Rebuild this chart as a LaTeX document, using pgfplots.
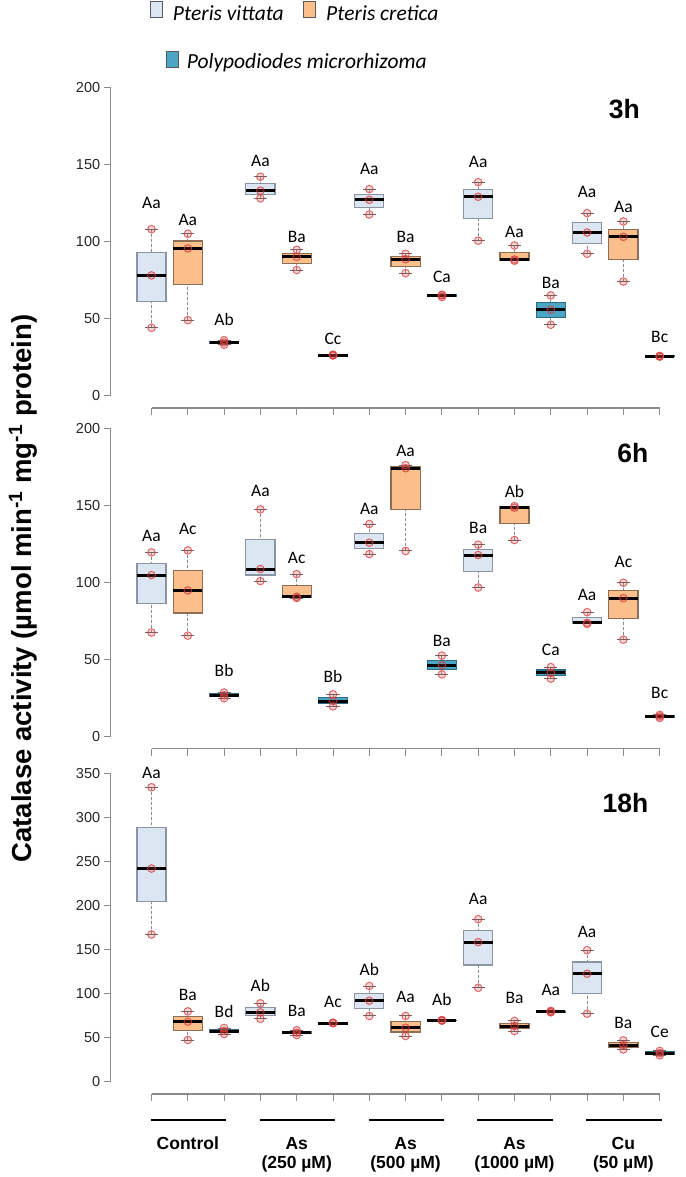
\documentclass[border=0pt]{standalone}
\usepackage{pgfplots}
\pgfplotsset{compat=1.18}
\usepgfplotslibrary{statistics}
\usepackage{fontspec}
\setmainfont{Liberation Sans}
\newfontfamily\carlito{Carlito}
\definecolor{pvfill}{HTML}{DCE6F2}
\definecolor{pvedge}{HTML}{8A94A2}
\definecolor{pcfill}{HTML}{FBBF8B}
\definecolor{pcedge}{HTML}{8C6E55}
\definecolor{pmfill}{HTML}{4AA6C4}
\definecolor{pmedge}{HTML}{2E6B80}
\definecolor{ptred}{HTML}{D63C3C}
\definecolor{axgray}{HTML}{8C8C8C}
\definecolor{ticklab}{HTML}{262626}

\tikzset{lbl/.style={font=\carlito\fontsize{17.5}{17.5}\selectfont, inner sep=0pt}}
\pgfplotsset{
  pv/.style={draw=pvedge, fill=pvfill, line width=1.2pt},
  pc/.style={draw=pcedge, fill=pcfill, line width=1.2pt},
  pm/.style={draw=pmedge, fill=pmfill, line width=1.2pt},
  pts/.style={only marks, mark=*, mark size=3.8pt, mark options={draw=ptred, fill=ptred, fill opacity=0.2, draw opacity=0.75, line width=1pt}},
  boxplot/draw direction=y,
  boxplot/box extend=0.8,
  boxplot/whisker extend=0.36,
  boxplot/every median/.style={black, line width=3pt},
  boxplot/draw/lower whisker/.code={%
    \draw[axgray, line width=1pt, densely dashed] (boxplot box cs:\pgfplotsboxplotvalue{lower whisker},0.5) -- (boxplot box cs:\pgfplotsboxplotvalue{lower quartile},0.5);
    \draw[black!60, line width=1pt] (boxplot whisker cs:\pgfplotsboxplotvalue{lower whisker},0) -- (boxplot whisker cs:\pgfplotsboxplotvalue{lower whisker},1);
  },
  boxplot/draw/upper whisker/.code={%
    \draw[axgray, line width=1pt, densely dashed] (boxplot box cs:\pgfplotsboxplotvalue{upper whisker},0.5) -- (boxplot box cs:\pgfplotsboxplotvalue{upper quartile},0.5);
    \draw[black!60, line width=1pt] (boxplot whisker cs:\pgfplotsboxplotvalue{upper whisker},0) -- (boxplot whisker cs:\pgfplotsboxplotvalue{upper whisker},1);
  },
  panel/.style={
    scale only axis, width=574.4pt, height=333pt,
    xmin=-0.124, xmax=15.7, anchor=south west,
    axis lines*=left, axis line style={draw=none},
    tick align=outside, major tick length=7pt,
    tick style={axgray, line width=1pt},
    xtick={1,...,15}, xticklabels={},
    clip=false,
    yticklabel style={font=\fontsize{14.5}{14.5}\selectfont, text=ticklab},
    /pgf/number format/assume math mode=true,
  },
}
% pos, style, lower whisker, Q1, median, Q3, upper whisker, letters, letter y
\newcommand{\bx}[9]{%
  \addplot[#2, boxplot prepared={draw direction=y, draw position=#1, lower whisker=#3, lower quartile=#4, median=#5, upper quartile=#6, upper whisker=#7}] coordinates {};
  \addplot[pts] coordinates {(#1,#3) (#1,#5) (#1,#7)};
  \node[lbl] at (axis cs:#1,#9) {#8};
}

\begin{document}
\begin{tikzpicture}
\useasboundingbox (0,0) rectangle (685pt,1177pt);

% ---------- 3h ----------
\begin{axis}[panel, at={(110.7pt,769pt)}, ymin=-8, ymax=208, ytick={0,50,...,200}]
\draw[axgray, line width=1.2pt] (axis cs:-0.124,0) -- (axis cs:-0.124,200);
\draw[axgray, line width=1.2pt] (axis cs:1,-8) -- (axis cs:15,-8);
\bx{1}{pv}{44}{61}{78}{93}{108}{Aa}{125}
\bx{2}{pc}{49}{72.3}{95.5}{100.3}{105}{Aa}{114}
\bx{3}{pm}{33}{33.8}{34.5}{35.3}{36}{Ab}{49.7}
\bx{4}{pv}{128}{130.5}{133}{137.5}{142}{Aa}{152}
\bx{5}{pc}{81.5}{85.8}{90}{92.3}{94.6}{Ba}{103}
\bx{6}{pm}{26}{26.2}{26.3}{26.5}{26.6}{Cc}{36.7}
\bx{7}{pv}{117.5}{122.3}{127}{130.5}{134}{Aa}{146.9}
\bx{8}{pc}{79.5}{84}{88.5}{90.3}{92}{Ba}{103}
\bx{9}{pm}{64}{64.5}{65}{65.3}{65.5}{Ca}{76.9}
\bx{10}{pv}{100.5}{114.8}{129}{133.8}{138.5}{Aa}{151.6}
\bx{11}{pc}{87.5}{87.9}{88.3}{92.9}{97.4}{Aa}{106}
\bx{12}{pm}{46}{50.9}{55.7}{60.4}{65}{Ba}{73}
\bx{13}{pv}{92}{98.9}{105.8}{112.1}{118.4}{Aa}{132.4}
\bx{14}{pc}{74}{88.5}{103}{108}{113}{Aa}{122.7}
\bx{15}{pm}{25.3}{25.4}{25.5}{25.7}{25.8}{Bc}{37.8}
\node[anchor=east, inner sep=0pt, font=\bfseries\fontsize{26.5}{26.5}\selectfont] at (axis cs:14.46,185.6) {3h};
\end{axis}

% ---------- 6h ----------
\begin{axis}[panel, at={(110.7pt,428.2pt)}, ymin=-8, ymax=208, ytick={0,50,...,200}]
\draw[axgray, line width=1.2pt] (axis cs:-0.124,0) -- (axis cs:-0.124,200);
\draw[axgray, line width=1.2pt] (axis cs:1,-8) -- (axis cs:15,-8);
\bx{1}{pv}{67.4}{86.1}{104.7}{112.1}{119.4}{Aa}{130}
\bx{2}{pc}{65.4}{80.1}{94.7}{107.7}{120.7}{Ac}{134.3}
\bx{3}{pm}{24.8}{25.8}{26.7}{27.6}{28.5}{Bb}{42.5}
\bx{4}{pv}{100.8}{104.7}{108.6}{128}{147.3}{Aa}{159.5}
\bx{5}{pc}{89.8}{90.2}{90.6}{98}{105.3}{Ac}{115.7}
\bx{6}{pm}{19.5}{21.3}{23}{25.2}{27.3}{Bb}{38.6}
\bx{7}{pv}{118.3}{122}{125.7}{131.8}{137.8}{Aa}{147.3}
\bx{8}{pc}{120.3}{147.2}{174}{175}{176}{Aa}{185.3}
\bx{9}{pm}{40.3}{43.3}{46.2}{49.3}{52.4}{Ba}{62}
\bx{10}{pv}{96.6}{107.2}{117.7}{121.1}{124.4}{Ba}{135}
\bx{11}{pc}{127.4}{137.9}{148.4}{148.9}{149.4}{Ab}{158.6}
\bx{12}{pm}{37.5}{39.4}{41.2}{43.1}{45}{Ca}{55.9}
\bx{13}{pv}{73}{73.4}{73.7}{77.2}{80.6}{Aa}{92.1}
\bx{14}{pc}{62.8}{76.3}{89.7}{94.7}{99.7}{Ac}{112.9}
\bx{15}{pm}{12}{12.5}{13}{13.5}{14}{Bc}{28.2}
\node[anchor=east, inner sep=0pt, font=\bfseries\fontsize{26.5}{26.5}\selectfont] at (axis cs:14.69,183.8) {6h};
\end{axis}

% ---------- 18h ----------
\begin{axis}[panel, at={(110.7pt,82.9pt)}, ymin=-14, ymax=364, ytick={0,50,...,350}]
\draw[axgray, line width=1.2pt] (axis cs:-0.124,0) -- (axis cs:-0.124,350);
\draw[axgray, line width=1.2pt] (axis cs:1,-14) -- (axis cs:15,-14);
\bx{1}{pv}{167.2}{204.6}{242}{288.2}{334.3}{Aa}{350.7}
\bx{2}{pc}{47.4}{57.8}{68.2}{74.1}{79.9}{Ba}{98.4}
\bx{3}{pm}{54.2}{55.9}{57.6}{59.3}{61}{Bd}{79.5}
\bx{4}{pv}{71.5}{75.2}{78.8}{83.9}{89}{Ab}{109}
\bx{5}{pc}{53}{54.4}{55.7}{57.1}{58.5}{Ba}{80.3}
\bx{6}{pm}{66.5}{66.6}{66.7}{66.9}{67}{Ac}{90.8}
\bx{7}{pv}{74.7}{83.4}{92}{100.4}{108.7}{Ab}{127.6}
\bx{8}{pc}{51.9}{56.6}{61.3}{68}{74.7}{Aa}{96.5}
\bx{9}{pm}{69.3}{69.5}{69.7}{69.9}{70}{Ab}{93.5}
\bx{10}{pv}{106.7}{132.6}{158.5}{171.6}{184.6}{Aa}{207}
\bx{11}{pc}{57.6}{60.5}{63.3}{66.2}{69}{Ba}{94.6}
\bx{12}{pm}{78.8}{79.2}{79.5}{80}{80.5}{Aa}{104}
\bx{13}{pv}{77.2}{99.9}{122.6}{136}{149.4}{Aa}{170.3}
\bx{14}{pc}{36.7}{39.2}{41.6}{44.3}{47}{Ba}{66.3}
\bx{15}{pm}{30}{31.3}{32.5}{33.8}{35}{Ce}{56.8}
\node[anchor=east, inner sep=0pt, font=\bfseries\fontsize{26.5}{26.5}\selectfont] at (axis cs:14.69,316) {18h};
% treatment groups
\draw[black, line width=2pt] (axis cs:0.98,-43.3) -- (axis cs:3.05,-43.3);
\draw[black, line width=2pt] (axis cs:3.98,-43.3) -- (axis cs:6.05,-43.3);
\draw[black, line width=2pt] (axis cs:6.98,-43.3) -- (axis cs:9.05,-43.3);
\draw[black, line width=2pt] (axis cs:9.98,-43.3) -- (axis cs:12.05,-43.3);
\draw[black, line width=2pt] (axis cs:12.98,-43.3) -- (axis cs:15.05,-43.3);
\begin{scope}[every node/.style={anchor=base, inner sep=0pt, font=\bfseries\fontsize{17.5}{17.5}\selectfont}]
\node at (axis cs:2,-76.6) {Control};
\node at (axis cs:5,-76.6) {As};
\node at (axis cs:5,-99) {(250 µM)};
\node at (axis cs:8,-76.6) {As};
\node at (axis cs:8,-99) {(500 µM)};
\node at (axis cs:11,-76.6) {As};
\node at (axis cs:11,-99) {(1000 µM)};
\node at (axis cs:14,-76.6) {Cu};
\node at (axis cs:14,-99) {(50 µM)};
\end{scope}
\end{axis}

% y label
\node[rotate=90, font=\bfseries\fontsize{27.5}{27.5}\selectfont] at (23pt,588.5pt) {Catalase activity (µmol min\textsuperscript{-1} mg\textsuperscript{-1} protein)};

% legend
\draw[draw=black!65, fill=pvfill, line width=1pt] (150pt,1159pt) rectangle (162pt,1175pt);
\node[anchor=base west, inner sep=0pt, font=\carlito\itshape\fontsize{21.5}{21.5}\selectfont] at (172.7pt,1156pt) {Pteris vittata};
\draw[draw=black!65, fill=pcfill, line width=1pt] (303.3pt,1159pt) rectangle (315pt,1175pt);
\node[anchor=base west, inner sep=0pt, font=\carlito\itshape\fontsize{21.5}{21.5}\selectfont] at (326pt,1156pt) {Pteris cretica};
\draw[draw=black!65, fill=pmfill, line width=1pt] (166.7pt,1109pt) rectangle (178.3pt,1125.3pt);
\node[anchor=base west, inner sep=0pt, font=\carlito\itshape\fontsize{21.5}{21.5}\selectfont] at (186.7pt,1108.7pt) {Polypodiodes microrhizoma};
\end{tikzpicture}
\end{document}
